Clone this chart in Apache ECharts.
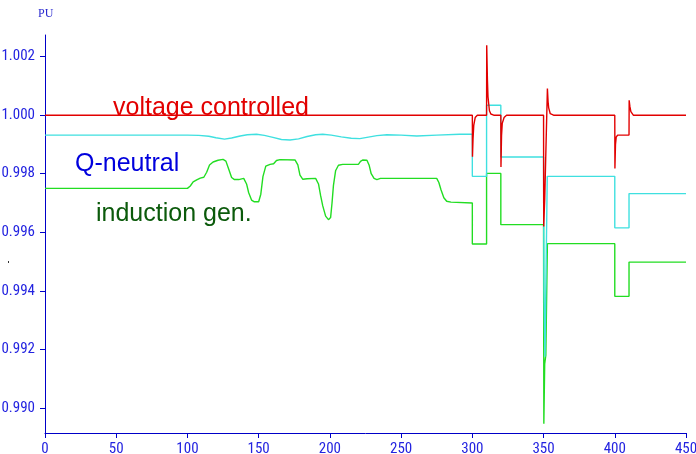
<!DOCTYPE html>
<html>
<head>
<meta charset="utf-8">
<script src="https://cdn.jsdelivr.net/npm/echarts@6/dist/echarts.min.js"></script>
<style>
html,body{margin:0;padding:0;background:#fff;}
#chart{width:696px;height:454px;}
</style>
</head>
<body>
<div id="chart"></div>
<script>
// ---- data (x = time, y = per-unit voltage) ----
var xTicks = [0, 50, 100, 150, 200, 250, 300, 350, 400, 450];
var yTicks = [0.990, 0.992, 0.994, 0.996, 0.998, 1.000, 1.002];

var voltageControlled = [
  [0,1.0],[300,1.0],[300.1,0.99858],[300.5,0.99920],[301,0.99965],[302,0.99992],[303.5,1.0],
  [310,1.0],[310.1,1.00239],[310.6,1.00120],[311,1.00063],[312,1.00015],[313,1.00004],[315,1.0],
  [320,1.0],[320.1,0.99823],[320.5,0.99930],[321,0.99972],[322.3,0.99992],[324,1.0],
  [350,1.0],[350.1,0.9962],[350.8,0.9971],[352.7,1.00091],[353.2,1.00045],[353.6,1.00025],[354.7,1.00005],[357,1.0],
  [400,1.0],[400.1,0.99818],[400.5,0.99900],[401,0.99925],[402,0.99932],[410,0.99932],
  [410.1,1.00051],[410.6,1.00030],[411.3,1.00012],[413,1.0],[450,1.0]
];

var qNeutral = [
  [0,0.99932],[100,0.99932],[108,0.99931],[115,0.99928],[120,0.99923],[126,0.99918],[131,0.99922],
  [137,0.99929],[142,0.99933],[148.5,0.99935],[154,0.99931],[160,0.99924],[166,0.99917],[172,0.99915],
  [178,0.99919],[184,0.99927],[190,0.99933],[195,0.99935],[201,0.99932],[208,0.99926],[215,0.99921],
  [221,0.99920],[227,0.99925],[233,0.99930],[240,0.99933],[250,0.99932],[261,0.99929],[275,0.99932],
  [291,0.99935],[300,0.99935],
  [300,0.99791],[310,0.99791],[310,1.00034],[320,1.00034],[320,0.99857],[350,0.99857],
  [350.3,0.9940],[351,0.99175],[352.6,0.99791],[400,0.99791],[400,0.99615],[410,0.99615],
  [410,0.99732],[450,0.99732]
];

var inductionGen = [
  [0,0.99750],[100,0.99750],[102,0.99758],[104,0.99772],[106.5,0.99779],[109,0.99785],[111.5,0.99788],
  [113.5,0.99805],[115.5,0.99830],[118,0.99840],[121.5,0.99846],[125,0.99849],[127,0.99843],[129,0.99815],
  [131,0.99787],[133,0.99780],[136,0.99780],[139.5,0.99784],
  [141.5,0.99765],[143,0.99735],[145,0.99710],[147,0.99704],[150,0.99704],[151.5,0.99730],[153,0.99790],
  [155,0.99826],[158,0.99832],[160.5,0.99834],[162.5,0.99845],[165,0.99848],[175.5,0.99847],
  [177.5,0.99830],[179,0.99795],[181,0.99781],[184,0.99783],[190,0.99784],[192,0.99765],[193.5,0.99725],
  [195,0.99690],[197,0.99655],[199,0.99643],[200.5,0.99650],[201.5,0.99700],[202.5,0.99760],[204,0.99810],
  [206,0.99829],[209,0.99832],[220,0.99832],[221.5,0.99842],[223,0.99847],[226,0.99846],[227.5,0.99830],
  [229,0.99800],[231,0.99784],[233,0.99780],[235.5,0.99784],[275,0.99784],
  [276.5,0.99770],[278,0.99745],[280,0.99718],[282,0.99706],[285,0.99703],[300,0.99700],
  [300,0.99560],[310,0.99560],[310,0.99801],[320,0.99801],[320,0.99626],[350,0.99626],
  [350.2,0.98946],[350.8,0.99150],[351.6,0.99180],[352.7,0.99561],[400,0.99561],
  [400,0.99381],[410,0.99381],[410,0.99498],[450,0.99498]
];

var seriesNames = ['voltage controlled', 'Q-neutral', 'induction gen.'];

// ---- styling ----
var axisColor = '#0000c8';
var labelColor = '#2323e0';
var labelFont = '"Roboto Condensed", Roboto, sans-serif';

var chart = echarts.init(document.getElementById('chart'), null, {renderer: 'canvas'});
chart.setOption({
  animation: false,
  backgroundColor: '#ffffff',
  grid: {left: 45, right: 10, top: 35, bottom: 21, containLabel: false, outerBoundsMode: 'none'},
  xAxis: {
    type: 'value', min: 0, max: 450, interval: 50,
    axisLine: {show: true, lineStyle: {color: axisColor, width: 1}},
    axisTick: {show: true, length: 5, inside: false, lineStyle: {color: axisColor}},
    axisLabel: {color: labelColor, fontSize: 15, fontFamily: labelFont, margin: 9,
      customValues: xTicks},
    splitLine: {show: false}
  },
  yAxis: {
    type: 'value', min: 0.98914, max: 1.00274,
    axisLine: {show: true, onZero: false, lineStyle: {color: axisColor, width: 1}},
    axisTick: {show: true, length: 5, inside: false, lineStyle: {color: axisColor},
      customValues: yTicks},
    axisLabel: {color: labelColor, fontSize: 15, fontFamily: labelFont, margin: 10,
      customValues: yTicks,
      formatter: function (v) { return v.toFixed(3); }},
    splitLine: {show: false}
  },
  series: [
    {name: seriesNames[2], type: 'line', data: inductionGen, showSymbol: false, symbol: 'none',
      lineStyle: {color: '#22dd22', width: 1.4}, z: 2},
    {name: seriesNames[1], type: 'line', data: qNeutral, showSymbol: false, symbol: 'none',
      lineStyle: {color: '#3fe0e0', width: 1.4}, z: 3},
    {name: seriesNames[0], type: 'line', data: voltageControlled, showSymbol: false, symbol: 'none',
      lineStyle: {color: '#e20000', width: 1.4}, z: 4}
  ],
  graphic: [
    {type: 'text', left: 38, top: 8, style: {text: 'PU', fill: '#2a2ad0',
      font: '12px "Liberation Serif", "Times New Roman", serif'}},
    {type: 'text', x: 113, y: 108, style: {text: seriesNames[0], fill: '#e20000',
      font: '25px "Liberation Sans", Arial, sans-serif', verticalAlign: 'middle'}},
    {type: 'text', x: 75, y: 164, style: {text: seriesNames[1], fill: '#0000dd',
      font: '25px "Liberation Sans", Arial, sans-serif', verticalAlign: 'middle'}},
    {type: 'text', x: 96, y: 214, style: {text: seriesNames[2], fill: '#0b5a0b',
      font: '25px "Liberation Sans", Arial, sans-serif', verticalAlign: 'middle'}},
    {type: 'rect', shape: {x: 8, y: 261, width: 1, height: 2}, style: {fill: '#333'}}
  ]
});
</script>
</body>
</html>
